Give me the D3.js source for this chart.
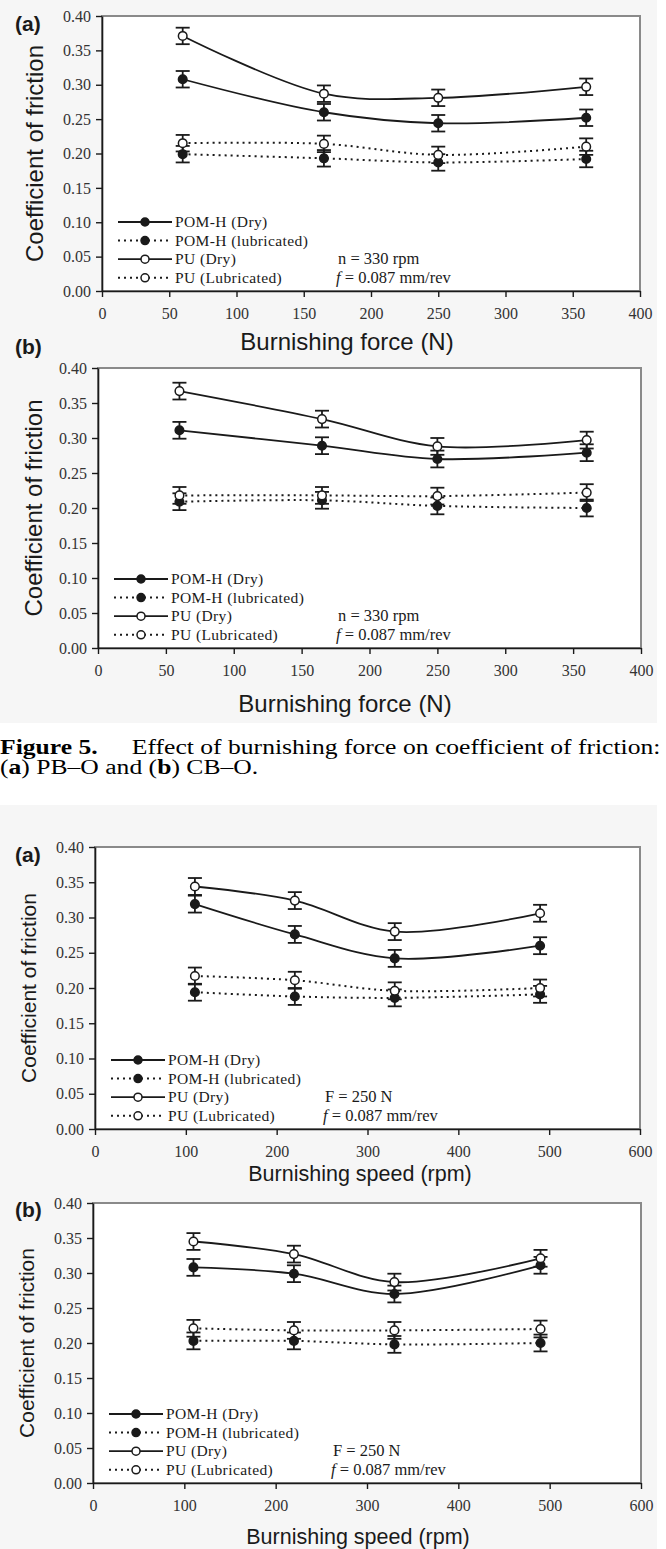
<!DOCTYPE html>
<html>
<head>
<meta charset="utf-8">
<script src="https://cdn.jsdelivr.net/npm/d3@7"></script>
<style>
  body { margin: 0; background: #fff; }
  svg { display: block; }
  .tick text { font-family: "Liberation Serif", "Times New Roman", serif; }
</style>
</head>
<body>
<div id="chart"></div>
<script>
// x positions of the measurements
const forceX = [60, 165, 250, 360];
const speedX = [110, 220, 330, 490];

const seriesNames = ["POM-H (Dry)", "POM-H (lubricated)", "PU (Dry)", "PU (Lubricated)"];
const yTicks = [0, 0.05, 0.10, 0.15, 0.20, 0.25, 0.30, 0.35, 0.40];
const errHalf = 0.012;

// Fig 5(a) PB-O, burnishing force
const pbPomDry = [0.308, 0.260, 0.244, 0.252];
const pbPomLub = [0.199, 0.193, 0.187, 0.192];
const pbPuDry  = [0.371, 0.287, 0.281, 0.297];
const pbPuLub  = [0.215, 0.214, 0.198, 0.210];

// Fig 5(b) CB-O, burnishing force
const cbPomDry = [0.311, 0.289, 0.270, 0.279];
const cbPomLub = [0.209, 0.211, 0.203, 0.200];
const cbPuDry  = [0.367, 0.327, 0.288, 0.297];
const cbPuLub  = [0.218, 0.218, 0.217, 0.222];

// speed figure (a)
const spAPomDry = [0.319, 0.276, 0.242, 0.260];
const spAPomLub = [0.194, 0.188, 0.186, 0.191];
const spAPuDry  = [0.344, 0.324, 0.280, 0.306];
const spAPuLub  = [0.217, 0.211, 0.196, 0.200];

// speed figure (b)
const spBPomDry = [0.308, 0.299, 0.270, 0.311];
const spBPomLub = [0.203, 0.203, 0.198, 0.200];
const spBPuDry  = [0.345, 0.327, 0.287, 0.321];
const spBPuLub  = [0.221, 0.218, 0.218, 0.220];

const forceTicks = [0, 50, 100, 150, 200, 250, 300, 350, 400];
const speedTicks = [0, 100, 200, 300, 400, 500, 600];

const panels = [
  {label: "(a)", labelY: 31, top: 16, bottom: 291, left: 102, right: 640,
   xs: forceX, xMax: 400, xTicks: forceTicks, series: [pbPomDry, pbPomLub, pbPuDry, pbPuLub],
   xTitle: "Burnishing force (N)", titleX: 347, titleY: 350, titleSize: 24,
   yTitleX: 35, yTitleSize: 24, note: "n = 330 rpm", noteX: 236},
  {label: "(b)", labelY: 354, top: 368, bottom: 648, left: 98, right: 641,
   xs: forceX, xMax: 400, xTicks: forceTicks, series: [cbPomDry, cbPomLub, cbPuDry, cbPuLub],
   xTitle: "Burnishing force (N)", titleX: 345, titleY: 712, titleSize: 24,
   yTitleX: 34, yTitleSize: 24, note: "n = 330 rpm", noteX: 240},
  {label: "(a)", labelY: 862, top: 847, bottom: 1129, left: 95, right: 640,
   xs: speedX, xMax: 600, xTicks: speedTicks, series: [spAPomDry, spAPomLub, spAPuDry, spAPuLub],
   xTitle: "Burnishing speed (rpm)", titleX: 360, titleY: 1181, titleSize: 21.5,
   yTitleX: 29, yTitleSize: 21, note: "F = 250 N", noteX: 230},
  {label: "(b)", labelY: 1217, top: 1203, bottom: 1483, left: 93, right: 641,
   xs: speedX, xMax: 600, xTicks: speedTicks, series: [spBPomDry, spBPomLub, spBPuDry, spBPuLub],
   xTitle: "Burnishing speed (rpm)", titleX: 358, titleY: 1544, titleSize: 21.5,
   yTitleX: 27, yTitleSize: 21, note: "F = 250 N", noteX: 240}
];

const width = 666, height = 1549;
const ink = "#1a1a1a";
const serif = "'Liberation Serif', 'Times New Roman', serif";
const sans = "'Liberation Sans', Arial, sans-serif";

// style per series: filled marker for POM-H, open for PU; dotted for lubricated
const seriesStyle = [
  {fill: ink, dash: null},
  {fill: ink, dash: "2,4"},
  {fill: "#fff", dash: null},
  {fill: "#fff", dash: "2,4"}
];

const svg = d3.select("#chart").append("svg")
    .attr("width", width)
    .attr("height", height);

// light grey scan background behind the two figure blocks
svg.append("rect").attr("x", 0).attr("y", 0).attr("width", 657).attr("height", 723).attr("fill", "#f6f6f6");
svg.append("rect").attr("x", 0).attr("y", 805).attr("width", 657).attr("height", 744).attr("fill", "#f6f6f6");

function drawPanel(p) {
    const x = d3.scaleLinear().domain([0, p.xMax]).range([p.left, p.right]);
    const y = d3.scaleLinear().domain([0, 0.40]).range([p.bottom, p.top]);
    const g = svg.append("g");

    // plot frame
    g.append("rect")
        .attr("x", p.left).attr("y", p.top)
        .attr("width", p.right - p.left).attr("height", p.bottom - p.top)
        .attr("fill", "#fff")
        .attr("stroke", "#8a8a8a")
        .attr("stroke-width", 2);

    // axes
    const xAxis = g.append("g")
        .attr("transform", "translate(0," + p.bottom + ")")
        .call(d3.axisBottom(x).tickValues(p.xTicks).tickSize(6).tickPadding(11).tickSizeOuter(0));
    xAxis.selectAll("text").attr("font-size", 16).attr("fill", "#333");

    const yAxis = g.append("g")
        .attr("transform", "translate(" + p.left + ",0)")
        .call(d3.axisLeft(y).tickValues(yTicks).tickFormat(d3.format(".2f")).tickSize(6).tickPadding(5).tickSizeOuter(0));
    yAxis.selectAll("text").attr("font-size", 16).attr("fill", "#333");

    [xAxis, yAxis].forEach(a => {
        a.select(".domain").attr("stroke", ink).attr("stroke-width", 1.6);
        a.selectAll(".tick line").attr("stroke", ink).attr("stroke-width", 1.4);
    });

    // series
    const line = d3.line()
        .x(d => x(d[0]))
        .y(d => y(d[1]))
        .curve(d3.curveCatmullRom.alpha(0.5));

    p.series.forEach((vals, i) => {
        const pts = vals.map((v, j) => [p.xs[j], v]);
        g.append("path")
            .attr("d", line(pts))
            .attr("fill", "none")
            .attr("stroke", ink)
            .attr("stroke-width", seriesStyle[i].dash ? 2 : 1.8)
            .attr("stroke-dasharray", seriesStyle[i].dash);
    });

    p.series.forEach((vals, i) => {
        const pts = vals.map((v, j) => [p.xs[j], v]);
        const eb = g.append("g").attr("stroke", ink).attr("stroke-width", 1.8);
        eb.selectAll("line.bar").data(pts).join("line")
            .attr("x1", d => x(d[0])).attr("x2", d => x(d[0]))
            .attr("y1", d => y(d[1] - errHalf)).attr("y2", d => y(d[1] + errHalf));
        eb.selectAll("line.capTop").data(pts).join("line")
            .attr("x1", d => x(d[0]) - 7).attr("x2", d => x(d[0]) + 7)
            .attr("y1", d => y(d[1] + errHalf)).attr("y2", d => y(d[1] + errHalf));
        eb.selectAll("line.capBot").data(pts).join("line")
            .attr("x1", d => x(d[0]) - 7).attr("x2", d => x(d[0]) + 7)
            .attr("y1", d => y(d[1] - errHalf)).attr("y2", d => y(d[1] - errHalf));
    });

    p.series.forEach((vals, i) => {
        const pts = vals.map((v, j) => [p.xs[j], v]);
        g.selectAll(null).data(pts).join("circle")
            .attr("cx", d => x(d[0])).attr("cy", d => y(d[1]))
            .attr("r", 4.3)
            .attr("fill", seriesStyle[i].fill)
            .attr("stroke", ink)
            .attr("stroke-width", 1.5);
    });

    // legend, bottom left inside plot
    seriesNames.forEach((name, i) => {
        const ly = p.bottom - 69 + i * 18.6;
        const lx = p.left + 16;
        g.append("line")
            .attr("x1", lx).attr("x2", lx + 54)
            .attr("y1", ly).attr("y2", ly)
            .attr("stroke", ink)
            .attr("stroke-width", seriesStyle[i].dash ? 2 : 1.8)
            .attr("stroke-dasharray", seriesStyle[i].dash);
        g.append("circle")
            .attr("cx", lx + 27).attr("cy", ly).attr("r", 4)
            .attr("fill", seriesStyle[i].fill)
            .attr("stroke", ink).attr("stroke-width", 1.5);
        g.append("text")
            .attr("x", lx + 57).attr("y", ly + 5)
            .attr("font-family", serif).attr("font-size", 15.5)
            .attr("letter-spacing", 0.4)
            .attr("fill", ink)
            .text(name);
    });

    // test conditions
    g.append("text")
        .attr("x", p.left + p.noteX).attr("y", p.bottom - 27)
        .attr("font-family", serif).attr("font-size", 16.5).attr("fill", ink)
        .text(p.note);
    const f = g.append("text")
        .attr("x", p.left + p.noteX - 2).attr("y", p.bottom - 8)
        .attr("font-family", serif).attr("font-size", 16.5).attr("fill", ink);
    f.append("tspan").attr("font-style", "italic").text("f");
    f.append("tspan").text(" = 0.087 mm/rev");

    // titles
    g.append("text")
        .attr("x", p.titleX).attr("y", p.titleY)
        .attr("text-anchor", "middle")
        .attr("font-family", sans).attr("font-size", p.titleSize).attr("fill", ink)
        .text(p.xTitle);

    g.append("text")
        .attr("transform", "translate(" + p.yTitleX + "," + ((p.top + p.bottom) / 2) + ") rotate(-90)")
        .attr("text-anchor", "middle")
        .attr("dy", "0.35em")
        .attr("font-family", sans).attr("font-size", p.yTitleSize).attr("fill", ink)
        .text("Coefficient of friction");

    g.append("text")
        .attr("x", 15).attr("y", p.labelY)
        .attr("font-family", sans).attr("font-size", 21).attr("font-weight", "bold").attr("fill", ink)
        .text(p.label);
}

panels.forEach(drawPanel);

// figure caption (the scanned caption is wider than it is tall, so stretch it horizontally)
const caption = svg.append("g").attr("transform", "scale(1.28,1)");
const cap1 = caption.append("text")
    .attr("x", 0).attr("y", 754)
    .attr("font-family", serif).attr("font-size", 20).attr("fill", "#000");
cap1.append("tspan").attr("font-weight", "bold").text("Figure 5.");
cap1.append("tspan").attr("x", 103).text("Effect of burnishing force on coefficient of friction:");

const cap2 = caption.append("text")
    .attr("x", 0).attr("y", 774)
    .attr("font-family", serif).attr("font-size", 20).attr("fill", "#000");
cap2.append("tspan").text("(");
cap2.append("tspan").attr("font-weight", "bold").text("a");
cap2.append("tspan").text(") PB\u2013O and (");
cap2.append("tspan").attr("font-weight", "bold").text("b");
cap2.append("tspan").text(") CB\u2013O.");
</script>
</body>
</html>
